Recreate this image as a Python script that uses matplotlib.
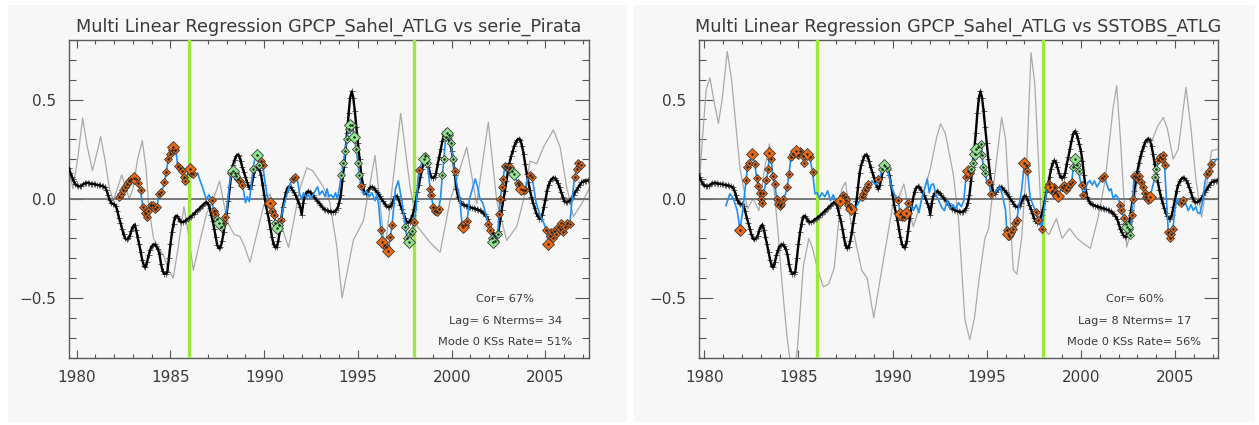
import numpy as np
import matplotlib
matplotlib.use("Agg")
import matplotlib.pyplot as plt
from matplotlib.patches import Rectangle
from matplotlib.ticker import MultipleLocator

# ---------------------------------------------------------------- data
# GPCP Sahel index (smoothed, monthly from Aug 1979), shared by both panels
black_start = 1979 + 7 / 12.0
black_vals = [
    0.155, 0.130, 0.110, 0.090, 0.075,
    0.068, 0.064, 0.062, 0.066, 0.072, 0.077, 0.079, 0.080, 0.078, 0.076, 0.075, 0.074,
    0.072, 0.070, 0.068, 0.067, 0.065, 0.062, 0.059, 0.045, 0.020, -0.005, -0.020, -0.025,
    -0.028, -0.035, -0.060, -0.095, -0.120, -0.150, -0.180, -0.200, -0.205, -0.200, -0.186, -0.160,
    -0.140, -0.130, -0.155, -0.195, -0.230, -0.270, -0.310, -0.340, -0.345, -0.320, -0.285, -0.258,
    -0.240, -0.232, -0.230, -0.240, -0.255, -0.280, -0.330, -0.365, -0.378, -0.378, -0.370, -0.300,
    -0.230, -0.170, -0.125, -0.090, -0.086, -0.095, -0.110, -0.117, -0.118, -0.114, -0.108, -0.102,
    -0.097, -0.090, -0.083, -0.077, -0.068, -0.060, -0.053, -0.045, -0.037, -0.030, -0.022, -0.017,
    -0.025, -0.045, -0.080, -0.110, -0.150, -0.195, -0.235, -0.250, -0.245, -0.215, -0.170, -0.120,
    -0.070, -0.010, 0.060, 0.130, 0.170, 0.195, 0.215, 0.222, 0.215, 0.190, 0.158, 0.135,
    0.110, 0.085, 0.060, 0.050, 0.070, 0.110, 0.145, 0.158, 0.155, 0.145, 0.120, 0.070,
    0.020, -0.030, -0.070, -0.105, -0.150, -0.195, -0.230, -0.245, -0.245, -0.215, -0.160, -0.095,
    -0.040, 0.000, 0.035, 0.055, 0.062, 0.058, 0.045, 0.032, 0.020, 0.000, -0.020, -0.040,
    -0.080, -0.020, 0.015, 0.030, 0.038, 0.035, 0.028, 0.018, 0.008, -0.002, -0.010, -0.020,
    -0.030, -0.040, -0.050, -0.055, -0.058, -0.062, -0.064, -0.066, -0.067, -0.065, -0.058, -0.045,
    -0.020, 0.020, 0.090, 0.160, 0.240, 0.330, 0.430, 0.510, 0.541, 0.510, 0.440, 0.360,
    0.280, 0.200, 0.130, 0.075, 0.035, 0.025, 0.035, 0.048, 0.057, 0.060, 0.055, 0.045,
    0.035, 0.025, 0.012, 0.000, -0.012, -0.025, -0.035, -0.041, -0.042, -0.035, -0.020, 0.000,
    0.015, 0.012, -0.005, -0.030, -0.050, -0.072, -0.095, -0.112, -0.120, -0.115, -0.100, -0.080,
    -0.050, -0.010, 0.035, 0.070, 0.110, 0.150, 0.180, 0.193, 0.185, 0.160, 0.130, 0.110,
    0.105, 0.110, 0.130, 0.175, 0.210, 0.250, 0.290, 0.325, 0.340, 0.330, 0.305, 0.275,
    0.240, 0.190, 0.120, 0.050, 0.010, -0.010, -0.022, -0.028, -0.032, -0.035, -0.038, -0.041,
    -0.043, -0.046, -0.048, -0.050, -0.053, -0.056, -0.059, -0.064, -0.070, -0.078, -0.088, -0.100,
    -0.125, -0.150, -0.168, -0.183, -0.193, -0.190, -0.160, -0.110, -0.055, -0.008, 0.040, 0.090,
    0.140, 0.180, 0.215, 0.240, 0.265, 0.285, 0.298, 0.302, 0.295, 0.265, 0.225, 0.175,
    0.125, 0.085, 0.045, 0.010, -0.020, -0.045, -0.070, -0.088, -0.100, -0.100, -0.080, -0.040,
    -0.005, 0.040, 0.070, 0.088, 0.100, 0.106, 0.104, 0.095, 0.078, 0.057, 0.035, 0.010,
    -0.010, -0.018, -0.018, -0.012, -0.006, 0.005, 0.020, 0.035, 0.045, 0.058, 0.070, 0.082,
    0.086, 0.088, 0.090, 0.092,
]

# predictor series (grey), left: serie_Pirata, right: SSTOBS_ATLG
grey_t_left = [1979.58, 1979.8, 1980.05, 1980.32, 1980.55, 1980.84, 1981.05, 1981.28, 1981.5,
               1981.75, 1981.95, 1982.2, 1982.4, 1982.6, 1982.8, 1983.0, 1983.25, 1983.5, 1983.7,
               1983.85, 1984.1, 1984.4, 1984.65, 1984.9, 1985.15, 1985.42, 1985.72, 1985.96,
               1986.22, 1986.58, 1986.93, 1987.3, 1987.62, 1987.9, 1988.1, 1988.4, 1988.7, 1988.95,
               1989.24, 1989.6, 1989.96, 1990.3, 1990.67, 1991.0, 1991.3, 1991.6, 1991.9, 1992.27,
               1992.6, 1993.15, 1993.5, 1993.87, 1994.15, 1994.4, 1994.75, 1995.29, 1995.91,
               1996.44, 1997.28, 1997.78, 1998.17, 1998.84, 1999.38, 1999.91, 2000.8, 2001.33,
               2001.95, 2002.4, 2002.93, 2003.47, 2003.82, 2004.18, 2004.53, 2004.89, 2005.42,
               2005.78, 2006.13, 2006.49, 2006.93, 2007.32]
grey_v_left = [0.15, 0.05, 0.2, 0.407, 0.27, 0.142, 0.22, 0.313, 0.2,
               0.05, -0.01, 0.06, 0.12, 0.06, 0.0, 0.05, 0.2, 0.293, 0.15,
               -0.05, -0.2, -0.25, -0.29, -0.36, -0.4, -0.24, -0.04, -0.18,
               -0.36, -0.21, -0.075, 0.0, 0.09, -0.05, -0.13, -0.18, -0.19, -0.24,
               -0.32, -0.18, -0.04, 0.025, -0.08, -0.16, -0.245, -0.1, 0.05, 0.156,
               0.14, 0.06, -0.02, -0.24, -0.5, -0.38, -0.21, -0.11, 0.218,
               -0.26, 0.43, 0.06, -0.14, -0.22, -0.27, -0.01, 0.26, -0.025,
               0.385, -0.01, -0.21, -0.14, -0.01, 0.19, 0.176, 0.26, 0.347,
               0.26, 0.06, -0.09, -0.025, 0.05]

grey_t_right = [1979.72, 1979.9, 1980.1, 1980.3, 1980.5, 1980.75, 1980.95, 1981.22, 1981.45,
                1981.72, 1981.9, 1982.1, 1982.3, 1982.6, 1982.9, 1983.2, 1983.46, 1983.65,
                1983.9, 1984.15, 1984.4, 1984.6, 1984.75, 1984.95, 1985.26, 1985.55, 1985.75,
                1986.0, 1986.32, 1986.6, 1986.9, 1987.3, 1987.5, 1987.75, 1988.0, 1988.36,
                1988.65, 1989.0, 1989.42, 1989.8, 1990.08, 1990.3, 1990.6, 1990.85, 1991.1,
                1991.4, 1991.7, 1992.0, 1992.34, 1992.55, 1992.8, 1993.22, 1993.5, 1993.84,
                1994.1, 1994.35, 1994.6, 1994.9, 1995.1, 1995.35, 1995.79, 1996.0, 1996.41,
                1996.6, 1996.85, 1997.12, 1997.35, 1997.55, 1997.92, 1998.3, 1998.7, 1999.0,
                1999.4, 1999.8, 2000.2, 2000.5, 2000.9, 2001.3, 2001.7, 2001.9, 2002.1, 2002.43,
                2002.7, 2003.0, 2003.4, 2003.8, 2004.1, 2004.38, 2004.6, 2004.9, 2005.17,
                2005.58, 2005.85, 2006.1, 2006.41, 2006.65, 2006.94, 2007.28]
grey_v_right = [0.05, 0.3, 0.55, 0.61, 0.5, 0.38, 0.5, 0.742, 0.6,
                0.327, 0.15, 0.05, -0.05, 0.0, -0.06, 0.15, 0.276, 0.1,
                -0.15, -0.45, -0.7, -0.85, -0.9, -0.75, -0.34, -0.2, -0.25,
                -0.35, -0.444, -0.43, -0.35, 0.05, 0.084, -0.1, -0.2, -0.36,
                -0.4, -0.6, -0.36, -0.15, 0.008, 0.0, 0.075, -0.05, -0.14,
                -0.05, 0.05, 0.15, 0.31, 0.377, 0.33, 0.126, -0.1, -0.61,
                -0.71, -0.6, -0.4, -0.2, -0.15, 0.059, 0.41, 0.3, -0.36,
                -0.38, -0.2, 0.176, 0.737, 0.58, -0.142, -0.18, -0.1, -0.2,
                -0.15, -0.2, -0.23, -0.25, -0.1, 0.1, 0.45, 0.57, 0.3, -0.243,
                -0.15, 0.1, 0.293, 0.3, 0.37, 0.41, 0.35, 0.2, 0.25,
                0.561, 0.35, 0.1, -0.092, 0.05, 0.243, 0.25]

# regression fit (blue); flags: '.' plain, 'o'/'O' orange, 'g'/'G' green (upper case = large)
fit_t_left = [
    1982.28, 1982.38, 1982.47, 1982.56, 1982.66, 1982.78, 1982.9, 1983.05, 1983.15, 1983.25,
    1983.41, 1983.52, 1983.64, 1983.73, 1983.82, 1983.95, 1984.08, 1984.18, 1984.27, 1984.4,
    1984.5, 1984.62, 1984.68, 1984.78, 1984.88, 1984.96, 1985.06, 1985.16, 1985.24, 1985.33,
    1985.38, 1985.5, 1985.6, 1985.72, 1985.8, 1985.9, 1986.02, 1986.12, 1986.22, 1986.3,
    1986.45, 1986.55, 1986.7, 1986.8, 1986.92, 1987.05, 1987.2, 1987.3, 1987.4, 1987.5,
    1987.58, 1987.68, 1987.8, 1987.9, 1988.0, 1988.12, 1988.22, 1988.32, 1988.42, 1988.52,
    1988.62, 1988.72, 1988.82, 1988.9, 1989.0, 1989.1, 1989.2, 1989.3, 1989.4, 1989.5,
    1989.63, 1989.72, 1989.82, 1989.92, 1990.05, 1990.2, 1990.3, 1990.4, 1990.5, 1990.6,
    1990.7, 1990.78, 1990.88, 1991.0, 1991.15, 1991.3, 1991.42, 1991.56, 1991.66, 1991.76,
    1991.9, 1992.0, 1992.1, 1992.25, 1992.35, 1992.5, 1992.65, 1992.85, 1992.95, 1993.1,
    1993.25, 1993.35, 1993.45, 1993.55, 1993.7, 1993.8, 1993.9, 1994.0, 1994.12, 1994.22,
    1994.32, 1994.4, 1994.5, 1994.6, 1994.7, 1994.8, 1994.9, 1995.0, 1995.08, 1995.15,
    1995.3, 1995.45, 1995.6, 1995.75, 1995.9, 1996.0, 1996.1, 1996.22, 1996.3, 1996.4,
    1996.5, 1996.62, 1996.72, 1996.82, 1996.9, 1997.0, 1997.15, 1997.28, 1997.4, 1997.52,
    1997.62, 1997.7, 1997.8, 1997.9, 1998.0, 1998.1, 1998.2, 1998.28, 1998.4, 1998.52,
    1998.6, 1998.7, 1998.78, 1998.85, 1998.92, 1999.0, 1999.1, 1999.2, 1999.3, 1999.4,
    1999.5, 1999.58, 1999.68, 1999.75, 1999.85, 1999.95, 2000.05, 2000.15, 2000.3, 2000.42,
    2000.55, 2000.62, 2000.72, 2000.82, 2000.95, 2001.1, 2001.25, 2001.38, 2001.5, 2001.65,
    2001.8, 2001.95, 2002.05, 2002.15, 2002.22, 2002.32, 2002.45, 2002.52, 2002.6, 2002.66,
    2002.74, 2002.83, 2002.93, 2003.05, 2003.13, 2003.22, 2003.32, 2003.42, 2003.52, 2003.6,
    2003.7, 2003.82, 2003.92, 2004.05, 2004.18, 2004.28, 2004.38, 2004.5, 2004.7, 2004.9,
    2005.05, 2005.15, 2005.25, 2005.32, 2005.4, 2005.48, 2005.55, 2005.65, 2005.75, 2005.85,
    2005.95, 2006.05, 2006.15, 2006.3, 2006.42, 2006.55, 2006.66, 2006.76, 2006.88, 2006.95,
]
fit_v_left = [
    0.008, 0.025, 0.045, 0.06, 0.075, 0.09, 0.1, 0.105, 0.1, 0.08,
    0.042, -0.042, -0.07, -0.092, -0.06, -0.03, -0.03, -0.05, -0.04, 0.025,
    0.033, 0.06, 0.084, 0.135, 0.2, 0.225, 0.245, 0.26, 0.245, 0.218,
    0.167, 0.155, 0.142, 0.11, 0.09, 0.12, 0.15, 0.13, 0.126, 0.12,
    0.13, 0.1, 0.06, 0.03, -0.005, 0.02, -0.005, -0.06, -0.075, -0.1,
    -0.12, -0.14, -0.12, -0.09, -0.06, 0.05, 0.13, 0.142, 0.13, 0.115,
    0.1, 0.09, 0.07, 0.04, -0.02, 0.01, -0.015, 0.06, 0.15, 0.2,
    0.221, 0.17, 0.19, 0.17, 0.08, -0.01, -0.022, -0.06, -0.08, -0.12,
    -0.145, -0.13, -0.105, -0.05, 0.0, 0.05, 0.08, 0.1, 0.11, 0.1,
    0.02, 0.0, 0.03, 0.005, 0.02, 0.0, 0.03, 0.06, 0.02, 0.04,
    0.01, 0.05, 0.01, 0.02, 0.005, 0.03, 0.0, 0.05, 0.12, 0.18,
    0.24, 0.3, 0.35, 0.37, 0.37, 0.31, 0.25, 0.18, 0.12, 0.065,
    0.02, 0.04, 0.01, 0.03, -0.01, 0.02, -0.03, -0.156, -0.22, -0.235,
    -0.245, -0.262, -0.193, -0.13, -0.05, 0.05, 0.09, 0.02, -0.05, -0.14,
    -0.2, -0.22, -0.18, -0.16, -0.115, -0.05, 0.1, 0.147, 0.18, 0.2,
    0.215, 0.18, 0.11, 0.05, 0.02, -0.04, -0.06, -0.065, -0.05, 0.0,
    0.12, 0.2, 0.31, 0.33, 0.32, 0.28, 0.2, 0.142, 0.06, 0.01,
    -0.13, -0.142, -0.13, -0.11, 0.0, 0.05, 0.1, 0.06, 0.0, -0.02,
    -0.07, -0.126, -0.156, -0.2, -0.22, -0.215, -0.18, -0.075, 0.0, 0.06,
    0.1, 0.165, 0.16, 0.15, 0.16, 0.14, 0.126, 0.1, 0.08, 0.07,
    0.05, 0.045, 0.045, 0.1, 0.12, 0.11, 0.05, -0.02, -0.08, -0.12,
    -0.159, -0.226, -0.19, -0.17, -0.2, -0.16, -0.18, -0.14, -0.15, -0.12,
    -0.17, -0.14, -0.12, -0.126, 0.0, 0.11, 0.15, 0.18, 0.17, 0.18,
]
fit_flag_left = (
    "oooooooOoo" "oooooooooo" "o.oooooOo." "ooooo.Ooo." "......ooog"
    "Ggoo..gGgg" "ooo.....g." "Ggoo..Ooog" "Ggo....oo." ".........."
    "........gg" "gggGgGgggo" ".......oOo" "oOoo.....g" "gGggo..o.G"
    "gg.oooooo." "gggGgggo.." "oOoo......" ".oogGggooo" "ooooogG.oo"
    "Ooo.oo...." "oOoooooooo" "oooo.oooo."
)

fit_t_right = [
    1981.15, 1981.36, 1981.55, 1981.75, 1981.9, 1982.05, 1982.22, 1982.29, 1982.4, 1982.55,
    1982.68, 1982.78, 1982.87, 1982.95, 1983.0, 1983.08, 1983.14, 1983.22, 1983.3, 1983.4,
    1983.46, 1983.55, 1983.63, 1983.75, 1983.84, 1983.92, 1984.0, 1984.1, 1984.2, 1984.3,
    1984.4, 1984.5, 1984.6, 1984.73, 1984.87, 1984.99, 1985.1, 1985.22, 1985.32, 1985.47,
    1985.6, 1985.75, 1985.88, 1986.0, 1986.1, 1986.25, 1986.4, 1986.55, 1986.7, 1986.85,
    1987.0, 1987.2, 1987.35, 1987.45, 1987.55, 1987.62, 1987.72, 1987.8, 1987.9, 1988.0,
    1988.2, 1988.36, 1988.45, 1988.55, 1988.65, 1988.71, 1988.8, 1988.9, 1989.1, 1989.25,
    1989.33, 1989.45, 1989.52, 1989.6, 1989.7, 1989.8, 1989.95, 1990.1, 1990.3, 1990.4,
    1990.5, 1990.58, 1990.7, 1990.84, 1990.95, 1991.1, 1991.25, 1991.4, 1991.55, 1991.7,
    1991.84, 1991.95, 1992.05, 1992.17, 1992.3, 1992.45, 1992.6, 1992.75, 1992.9, 1993.05,
    1993.2, 1993.35, 1993.5, 1993.65, 1993.78, 1993.9, 1994.0, 1994.1, 1994.18, 1994.25,
    1994.35, 1994.45, 1994.55, 1994.68, 1994.75, 1994.82, 1994.9, 1995.0, 1995.14, 1995.21,
    1995.35, 1995.5, 1995.7, 1995.85, 1996.0, 1996.06, 1996.12, 1996.2, 1996.3, 1996.42,
    1996.52, 1996.59, 1996.75, 1996.85, 1997.0, 1997.08, 1997.16, 1997.3, 1997.45, 1997.62,
    1997.74, 1997.82, 1997.92, 1998.05, 1998.2, 1998.3, 1998.38, 1998.46, 1998.55, 1998.62,
    1998.71, 1998.8, 1998.9, 1998.98, 1999.1, 1999.2, 1999.3, 1999.42, 1999.51, 1999.6,
    1999.69, 1999.78, 1999.88, 1999.95, 2000.04, 2000.13, 2000.25, 2000.35, 2000.48, 2000.6,
    2000.72, 2000.85, 2000.98, 2001.1, 2001.23, 2001.35, 2001.5, 2001.6, 2001.72, 2001.85,
    2002.0, 2002.08, 2002.15, 2002.29, 2002.38, 2002.47, 2002.57, 2002.62, 2002.7, 2002.76,
    2002.82, 2002.92, 2003.02, 2003.1, 2003.2, 2003.3, 2003.38, 2003.46, 2003.56, 2003.66,
    2003.78, 2003.93, 2004.0, 2004.11, 2004.2, 2004.3, 2004.38, 2004.44, 2004.55, 2004.64,
    2004.72, 2004.8, 2004.88, 2005.0, 2005.1, 2005.2, 2005.32, 2005.4, 2005.55, 2005.7,
    2005.85, 2005.97, 2006.1, 2006.2, 2006.32, 2006.45, 2006.6, 2006.7, 2006.8, 2006.9,
    2007.0, 2007.2,
]
fit_v_right = [
    -0.034, 0.025, 0.0, -0.06, -0.159, -0.05, 0.092, 0.159, 0.179, 0.226,
    0.176, 0.106, 0.064, 0.03, 0.0, -0.022, 0.028, 0.06, 0.092, 0.151,
    0.231, 0.2, 0.117, 0.075, 0.0, -0.025, -0.035, -0.025, 0.0, 0.02,
    0.059, 0.126, 0.209, 0.226, 0.243, 0.218, 0.24, 0.215, 0.18, 0.226,
    0.21, 0.134, 0.025, 0.03, 0.005, 0.03, 0.01, 0.04, -0.01, 0.02,
    -0.015, -0.013, 0.02, 0.01, -0.005, -0.034, -0.04, -0.05, -0.04, -0.05,
    -0.02, 0.008, 0.025, 0.045, 0.06, 0.075, 0.06, 0.09, 0.07, 0.1,
    0.106, 0.15, 0.17, 0.165, 0.155, 0.12, 0.06, 0.02, -0.008, -0.075,
    -0.09, -0.092, -0.07, -0.02, -0.03, -0.06, -0.03, -0.07, 0.0, 0.05,
    0.1, 0.03, 0.07, 0.075, 0.02, -0.01, -0.042, -0.06, -0.01, -0.05,
    -0.03, -0.05, -0.02, -0.04, -0.01, 0.109, 0.142, 0.13, 0.15, 0.18,
    0.226, 0.25, 0.26, 0.276, 0.22, 0.16, 0.13, 0.09, 0.084, 0.025,
    0.02, 0.04, 0.059, 0.01, -0.06, -0.156, -0.176, -0.19, -0.17, -0.15,
    -0.12, -0.109, -0.01, 0.042, 0.181, 0.17, 0.142, 0.01, -0.03, -0.067,
    -0.109, -0.1, -0.154, -0.05, 0.05, 0.075, 0.06, 0.04, 0.06, 0.035,
    0.025, 0.015, 0.04, 0.059, 0.07, 0.045, 0.06, 0.075, 0.084, 0.159,
    0.201, 0.17, 0.14, 0.1, 0.067, 0.017, 0.05, 0.08, 0.092, 0.07,
    0.09, 0.06, 0.08, 0.106, 0.117, 0.08, 0.04, 0.05, 0.0, 0.02,
    0.0, -0.034, -0.059, -0.095, -0.126, -0.14, -0.151, -0.184, -0.084, 0.0,
    0.117, 0.11, 0.1, 0.117, 0.085, 0.06, 0.03, 0.008, -0.005, 0.008,
    0.05, 0.109, 0.15, 0.193, 0.209, 0.2, 0.218, 0.168, -0.02, -0.168,
    -0.2, -0.176, -0.151, -0.05, 0.0, -0.03, -0.02, -0.005, -0.02, -0.06,
    -0.03, -0.059, -0.04, -0.07, -0.075, -0.02, 0.09, 0.126, 0.14, 0.176,
    0.17, 0.2,
]
fit_flag_right = (
    "....O.oooO" "ooooooo.oo" "Ooooooooo." "ooooOooooO" "oo........"
    ".OoooooO.." ".ooooo...o" ".gGgg...oO" "ooOo......" ".........."
    ".....oOogg" "GGggggg.oo" ".....oOooo" "oo..Ooo..o" "o.o..oOooo"
    "oO.oooooog" "Ggg.oo...." "...oo....." ".ooogGggoo" "oooooooooO"
    ".ggooooo.o" "ooo...oo.." ".......ooo" ".."
)

# annotation text for each panel
titles = ["Multi Linear Regression GPCP_Sahel_ATLG vs serie_Pirata",
          "Multi Linear Regression GPCP_Sahel_ATLG vs SSTOBS_ATLG"]
stats_text = [["Cor= 67%", "Lag= 6 Nterms= 34", "Mode 0 KSs Rate= 51%"],
              ["Cor= 60%", "Lag= 8 Nterms= 17", "Mode 0 KSs Rate= 56%"]]
period_marks = [1986.0, 1998.0]
x_ranges = [(1979.59, 2007.32), (1979.72, 2007.28)]

# ---------------------------------------------------------------- drawing
W, H = 1259, 425
fig = plt.figure(figsize=(W / 100, H / 100), dpi=100, facecolor="white")

PANEL = "#f7f7f7"
TXT = "#3a3a3a"
for (px, pw) in [(8, 619), (634, 621)]:
    fig.patches.append(Rectangle((px / W, 3 / H), pw / W, 417 / H, transform=fig.transFigure,
                                 facecolor=PANEL, edgecolor="none", zorder=-5))

axes_px = [(69, 40, 520, 317.5), (699, 40, 519, 317.5)]

black_t = black_start + np.arange(len(black_vals)) / 12.0

panels = [
    (grey_t_left, grey_v_left, fit_t_left, fit_v_left, fit_flag_left),
    (grey_t_right, grey_v_right, fit_t_right, fit_v_right, fit_flag_right),
]

for i, (gt, gv, ft, fv, ff) in enumerate(panels):
    x0, y0, w, h = axes_px[i]
    ax = fig.add_axes([x0 / W, (H - y0 - h) / H, w / W, h / H])
    ax.set_facecolor(PANEL)
    ax.set_xlim(*x_ranges[i])
    ax.set_ylim(-0.8, 0.8)

    ax.plot(gt, gv, color="#a9a9a9", lw=0.9, zorder=2)
    ax.axhline(0.0, color="#6e6e6e", lw=1.3, zorder=2.5)
    for xm in period_marks:
        ax.axvline(xm, color="#9be93a", lw=2.4, zorder=3)

    # monthly index: grey crosses under a black line
    ax.plot(black_t, black_vals, ls="none", marker="+", ms=4.2, mew=0.7,
            mec="#606060", zorder=3.9)
    ax.plot(black_t, black_vals, color="black", lw=1.7, zorder=4)

    ft = np.asarray(ft)
    fv = np.asarray(fv)
    ax.plot(ft, fv, color="#1f8ff0", lw=1.2, zorder=5)
    flags = np.array(list(ff[:len(ft)].ljust(len(ft), ".")))
    for key, face, size in [("o", "#ee6a10", 4.3), ("O", "#ee6a10", 6.0),
                            ("g", "#8ee68e", 4.3), ("G", "#8ee68e", 6.0)]:
        sel = flags == key
        if sel.any():
            ax.plot(ft[sel], fv[sel], ls="none", marker="D", ms=size, mfc=face,
                    mec="#3a3a3a", mew=0.6, zorder=6)
            ax.plot(ft[sel], fv[sel], ls="none", marker=".", ms=1.6, color="#202020",
                    zorder=7)

    ax.xaxis.set_major_locator(MultipleLocator(5))
    ax.xaxis.set_minor_locator(MultipleLocator(1))
    ax.yaxis.set_major_locator(MultipleLocator(0.5))
    ax.yaxis.set_minor_locator(MultipleLocator(0.1))
    ax.xaxis.set_major_formatter(plt.FuncFormatter(lambda v, p: "%d" % round(v)))
    ax.yaxis.set_major_formatter(plt.FuncFormatter(
        lambda v, p: ("\u22120.5" if v < -0.01 else "%.1f" % v)))
    ax.tick_params(axis="both", which="both", direction="in", top=True, right=True,
                   colors="#555555", labelcolor=TXT, labelsize=11, width=0.8)
    ax.tick_params(axis="x", which="major", length=6, pad=9)
    ax.tick_params(axis="x", which="minor", length=3)
    ax.tick_params(axis="y", which="major", length=10, pad=9)
    ax.tick_params(axis="y", which="minor", length=5)
    for s in ax.spines.values():
        s.set_color("#5a5a5a")
        s.set_linewidth(1.0)

    ax.set_title(titles[i], fontsize=12.7, color=TXT, pad=6)
    for k, line in enumerate(stats_text[i]):
        ax.text(0.839, [0.184, 0.116, 0.048][k], line, transform=ax.transAxes,
                ha="center", va="center", fontsize=8.2, color=TXT, zorder=8)

fig.savefig("out.png", dpi=100, facecolor="white")
